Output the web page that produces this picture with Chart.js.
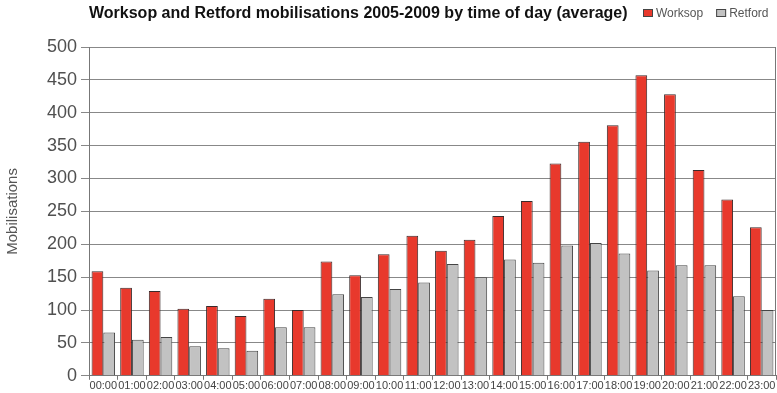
<!DOCTYPE html>
<html>
<head>
<meta charset="utf-8">
<script src="https://cdn.jsdelivr.net/npm/chart.js@4"></script>
<style>
  body { margin: 0; background: #fff; }
  #wrap { width: 777px; height: 393px; position: relative; }
</style>
</head>
<body>
<div id="wrap"><canvas id="myChart"></canvas></div>
<script>
const hours = ['00:00', '01:00', '02:00', '03:00', '04:00', '05:00', '06:00', '07:00', '08:00', '09:00', '10:00', '11:00',
  '12:00', '13:00', '14:00', '15:00', '16:00', '17:00', '18:00', '19:00', '20:00', '21:00', '22:00', '23:00'];
const worksop = [159, 134, 129, 102, 106, 91, 117, 100, 174, 153, 185, 213, 190, 207, 243, 266, 323, 356, 381, 457, 428, 313, 268, 226];
const retford = [66, 55, 59, 45, 42, 38, 74, 74, 124, 120, 132, 142, 170, 150, 177, 172, 198, 202, 186, 160, 168, 168, 121, 100];
const yTicks = [0, 50, 100, 150, 200, 250, 300, 350, 400, 450, 500];

const chartTitle = 'Worksop and Retford mobilisations 2005-2009 by time of day (average)';

// title + legend on one line, and the right frame line
const headerPlugin = {
  id: 'header',
  afterDraw(chart) {
    const c = chart.ctx;
    const area = chart.chartArea;
    c.save();
    c.strokeStyle = '#777';
    c.lineWidth = 1;
    c.beginPath();
    c.moveTo(area.right - 0.5, area.top);
    c.lineTo(area.right - 0.5, area.bottom);
    c.stroke();

    c.fillStyle = '#111';
    c.font = 'bold 16px "Liberation Sans", Arial, sans-serif';
    c.textBaseline = 'middle';
    c.fillText(chartTitle, 89, 14);

    c.font = '12px "Liberation Sans", Arial, sans-serif';
    let x = 643;
    chart.data.datasets.forEach(ds => {
      c.fillStyle = ds.backgroundColor;
      c.strokeStyle = '#444';
      c.fillRect(x, 9, 10, 8);
      c.strokeRect(x + 0.5, 9.5, 9, 7);
      c.fillStyle = '#555';
      c.fillText(ds.label, x + 13, 14);
      x += 13 + c.measureText(ds.label).width + 13;
    });
    c.restore();
  }
};

new Chart(document.getElementById('myChart'), {
  type: 'bar',
  data: {
    labels: hours,
    datasets: [{
      label: 'Worksop',
      data: worksop,
      backgroundColor: '#e8392c',
      borderColor: '#3a2a2a',
      borderWidth: 1,
      categoryPercentage: 0.82,
      barPercentage: 1.0
    }, {
      label: 'Retford',
      data: retford,
      backgroundColor: '#c2c2c2',
      borderColor: '#444',
      borderWidth: 1,
      categoryPercentage: 0.82,
      barPercentage: 1.0
    }]
  },
  options: {
    responsive: true,
    maintainAspectRatio: false,
    animation: false,
    layout: { padding: { top: 47, right: 1, left: 0, bottom: 0 } },
    plugins: {
      legend: { display: false },
      title: { display: false },
      tooltip: { enabled: false }
    },
    scales: {
      x: {
        grid: { drawOnChartArea: false, drawTicks: true, tickLength: 4, color: '#777', offset: true },
        border: { color: '#777' },
        ticks: {
          color: '#444',
          font: { family: '"Liberation Sans", Arial, sans-serif', size: 11 },
          maxRotation: 0,
          autoSkip: false,
          padding: 0
        }
      },
      y: {
        min: 0,
        max: 500,
        afterBuildTicks(scale) { scale.ticks = yTicks.map(v => ({ value: v })); },
        afterFit(scale) { scale.width = 89; },
        grid: { color: '#888', tickLength: 8 },
        border: { color: '#777' },
        ticks: {
          color: '#505050',
          font: { family: '"Liberation Sans", Arial, sans-serif', size: 18 },
          padding: 4
        },
        title: {
          display: true,
          text: 'Mobilisations',
          color: '#555',
          font: { family: '"Liberation Sans", Arial, sans-serif', size: 15 },
          padding: { top: 4, bottom: 6 }
        }
      }
    }
  },
  plugins: [headerPlugin]
});
</script>
</body>
</html>
